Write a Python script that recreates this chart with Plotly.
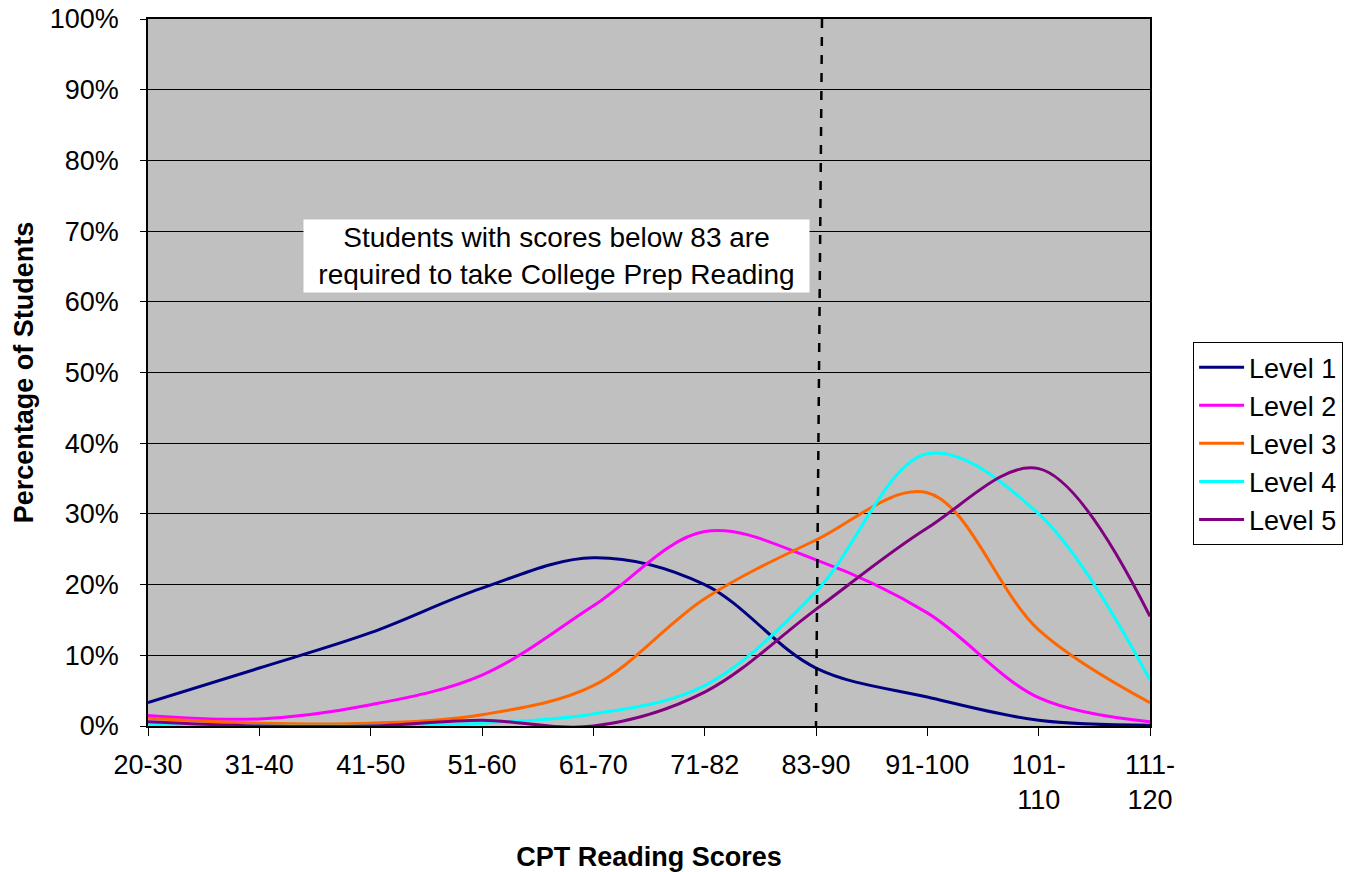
import plotly.graph_objects as go

categories = ["20-30", "31-40", "41-50", "51-60", "61-70", "71-82", "83-90", "91-100", "101-110", "111-120"]
tick_labels = ["20-30", "31-40", "41-50", "51-60", "61-70", "71-82", "83-90", "91-100", "101-<br>110", "111-<br>120"]
level1 = [3.3, 8.2, 13.2, 19.5, 23.8, 20.0, 8.2, 4.1, 0.8, 0.1]
level2 = [1.5, 1.0, 3.0, 7.2, 17.0, 27.5, 23.5, 16.0, 4.0, 0.6]
level3 = [1.1, 0.4, 0.4, 1.6, 5.7, 18.0, 26.3, 33.0, 13.6, 3.3]
level4 = [0.2, 0.0, 0.0, 0.4, 1.7, 5.7, 19.0, 38.5, 30.0, 6.5]
level5 = [0.6, 0.0, 0.0, 0.8, 0.0, 4.8, 16.5, 28.0, 36.4, 15.5]
series_names = ["Level 1", "Level 2", "Level 3", "Level 4", "Level 5"]
series_values = [level1, level2, level3, level4, level5]
colors = ["#000080", "#FF00FF", "#FF6600", "#00FFFF", "#800080"]

fig = go.Figure()
for name, vals, col in zip(series_names, series_values, colors):
    fig.add_trace(go.Scatter(
        x=categories, y=vals, name=name, mode="lines",
        line=dict(color=col, width=3, shape="spline", smoothing=1.0),
    ))

font_family = "Liberation Sans, Arial, sans-serif"

fig.add_shape(type="line", xref="x", yref="y", x0=6.054, x1=6.0, y0=100, y1=0,
              line=dict(color="black", width=2.5, dash="dash"))

fig.add_annotation(
    x=3.667, y=66.5, xref="x", yref="y",
    text="Students with scores below 83 are<br>required to take College Prep Reading",
    showarrow=False, bgcolor="white", borderpad=0, width=505, height=72,
    font=dict(family=font_family, size=28, color="black"),
)

fig.update_layout(
    width=1355, height=872,
    margin=dict(l=148, r=202, t=19, b=146),
    paper_bgcolor="white", plot_bgcolor="#C0C0C0",
    font=dict(family=font_family, size=27, color="black"),
    showlegend=True,
    legend=dict(x=1.043, y=0.543, xanchor="left", yanchor="top",
                bordercolor="black", borderwidth=1, bgcolor="white",
                font=dict(size=27), tracegroupgap=0, itemwidth=45),
)

fig.update_xaxes(
    type="category", categoryorder="array", categoryarray=categories,
    range=[0, 9], tickvals=categories, ticktext=tick_labels,
    showgrid=False, zeroline=False, automargin=False,
    showline=True, linecolor="black", linewidth=1.5, mirror=True,
    ticks="outside", ticklen=8, tickcolor="black", ticklabelstandoff=6,
    tickfont=dict(size=27), ticklabeloverflow="allow",
    title=dict(text="<b>CPT Reading Scores</b>", font=dict(size=27), standoff=34),
)
fig.update_yaxes(
    range=[0, 100], tickvals=list(range(0, 101, 10)),
    ticktext=[f"{v}%" for v in range(0, 101, 10)],
    showgrid=True, gridcolor="black", gridwidth=1,
    zeroline=False, automargin=False,
    showline=True, linecolor="black", linewidth=1.5, mirror=True,
    ticks="outside", ticklen=6, tickcolor="black", ticklabelstandoff=16,
    tickfont=dict(size=27), ticklabeloverflow="allow",
    title=dict(text="<b>Percentage of Students</b>", font=dict(size=27), standoff=8),
)

fig.write_html("out.html",
               config={"displayModeBar": False},
               post_script="document.body.style.margin='0';document.body.style.overflow='hidden';")
